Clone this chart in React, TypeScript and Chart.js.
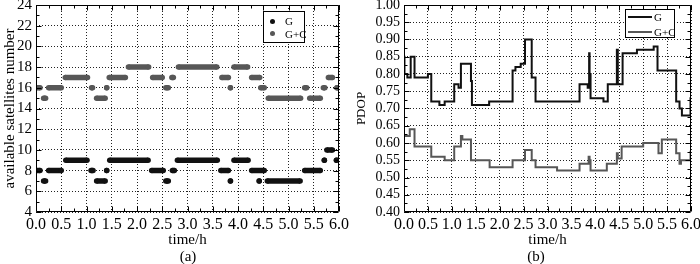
import React, { useEffect, useRef } from 'react';
import { Chart, registerables } from 'chart.js';

Chart.register(...registerables);

const SERIF = '"Liberation Serif", "Times New Roman", Times, serif';

// ---------- shared ----------
const seriesNames = ['G', 'G+C'];
const timeTitle = 'time/h';
const colorG = '#111111';
const colorGC = '#575757';

// ---------- panel (a): available satellites ----------
const satTitle = 'available satellites number';
// [start h, end h, satellites]
const gSatSegments: [number, number, number][] = [
  [0.0, 0.08, 8],
  [0.15, 0.19, 7],
  [0.25, 0.5, 8],
  [0.59, 1.01, 9],
  [1.09, 1.13, 8],
  [1.2, 1.37, 7],
  [1.4, 1.4, 8],
  [1.46, 2.22, 9],
  [2.29, 2.52, 8],
  [2.57, 2.62, 7],
  [2.7, 2.74, 8],
  [2.8, 3.59, 9],
  [3.66, 3.81, 8],
  [3.85, 3.85, 7],
  [3.92, 4.2, 9],
  [4.27, 4.52, 8],
  [4.42, 4.42, 7],
  [4.58, 5.23, 7],
  [5.32, 5.63, 8],
  [5.71, 5.71, 9],
  [5.76, 5.87, 10],
  [5.95, 5.95, 9],
];
const gcSatSegments: [number, number, number][] = [
  [0.0, 0.08, 16],
  [0.15, 0.19, 15],
  [0.25, 0.5, 16],
  [0.58, 1.02, 17],
  [1.1, 1.12, 16],
  [1.2, 1.37, 15],
  [1.4, 1.4, 16],
  [1.45, 1.77, 17],
  [1.83, 2.23, 18],
  [2.31, 2.5, 17],
  [2.57, 2.62, 16],
  [2.69, 2.72, 17],
  [2.82, 3.58, 18],
  [3.68, 3.81, 17],
  [3.85, 3.85, 16],
  [3.92, 4.19, 18],
  [4.27, 4.43, 17],
  [4.45, 4.52, 16],
  [4.6, 5.24, 15],
  [5.32, 5.36, 16],
  [5.42, 5.63, 15],
  [5.69, 5.72, 16],
  [5.79, 5.87, 17],
  [5.96, 5.96, 16],
];
const satMin = 4;
const satMax = 24;
const satStep = 2;

// ---------- panel (b): PDOP ----------
const pdopTitle = 'PDOP';
// [time h where value starts, PDOP]
const gPdopSteps: [number, number][] = [
  [0.0, 0.85], [0.01, 0.8], [0.07, 0.79], [0.14, 0.85], [0.22, 0.79],
  [0.5, 0.8], [0.57, 0.72], [0.74, 0.71], [0.85, 0.72], [1.05, 0.77],
  [1.14, 0.76], [1.19, 0.83], [1.4, 0.78], [1.42, 0.71], [1.78, 0.72],
  [2.27, 0.81], [2.33, 0.82], [2.44, 0.83], [2.53, 0.9], [2.67, 0.79],
  [2.75, 0.72], [3.67, 0.77], [3.84, 0.76], [3.87, 0.86], [3.88, 0.8],
  [3.9, 0.73], [4.17, 0.72], [4.26, 0.77], [4.45, 0.87], [4.47, 0.77],
  [4.57, 0.86], [4.87, 0.87], [5.22, 0.88], [5.3, 0.81], [5.69, 0.72],
  [5.76, 0.7], [5.81, 0.68], [5.99, 0.73], [6.0, 0.73],
];
const gcPdopSteps: [number, number][] = [
  [0.0, 0.62], [0.12, 0.64], [0.22, 0.59], [0.57, 0.56], [0.85, 0.55],
  [1.05, 0.59], [1.19, 0.62], [1.22, 0.61], [1.4, 0.55], [1.79, 0.53],
  [2.27, 0.55], [2.53, 0.58], [2.67, 0.55], [2.75, 0.53], [3.2, 0.52],
  [3.67, 0.54], [3.86, 0.56], [3.88, 0.55], [3.9, 0.52], [4.24, 0.54],
  [4.45, 0.57], [4.47, 0.555], [4.55, 0.59], [5.0, 0.6], [5.32, 0.57],
  [5.39, 0.61], [5.69, 0.57], [5.76, 0.54], [5.79, 0.55], [5.99, 0.575],
  [6.0, 0.575],
];
const pdopMin = 0.4;
const pdopMax = 1.0;
const pdopStep = 0.05;

// ---------- helpers ----------
function segmentsToPoints(segs: [number, number, number][]) {
  const out: { x: number; y: number | null }[] = [];
  segs.forEach(([s, e, v], i) => {
    if (i > 0) out.push({ x: s, y: null });
    out.push({ x: s, y: v }, { x: e, y: v });
  });
  return out;
}
function stepsToPoints(steps: [number, number][]) {
  return steps.map(([x, y]) => ({ x, y }));
}

const framePlugin = {
  id: 'frame',
  afterDatasetsDraw(chart: any, _args: any, opts: any) {
    const { ctx, chartArea: a, scales } = chart;
    const xs = scales.x;
    const ys = scales.y;
    const L = Math.round(a.left) + 0.5;
    const R = Math.round(a.right) - 0.5;
    const T = Math.round(a.top) + 0.5;
    const B = Math.round(a.bottom) - 0.5;
    ctx.save();
    ctx.strokeStyle = '#000';
    ctx.lineWidth = 1;
    ctx.beginPath();
    ctx.rect(L, T, R - L, B - T);
    const isMajor = (v: number, m: number) => Math.abs(v / m - Math.round(v / m)) < 1e-6;
    const nx = Math.round((xs.max - xs.min) / opts.xMinor);
    for (let i = 0; i <= nx; i++) {
      const v = xs.min + i * opts.xMinor;
      const p = Math.round(xs.getPixelForValue(v)) + 0.5;
      const len = isMajor(v - xs.min, opts.xMajor) ? 5 : 3;
      ctx.moveTo(p, B);
      ctx.lineTo(p, B - len);
      ctx.moveTo(p, T);
      ctx.lineTo(p, T + len);
    }
    const ny = Math.round((ys.max - ys.min) / opts.yMinor);
    for (let i = 0; i <= ny; i++) {
      const v = ys.min + i * opts.yMinor;
      const p = Math.round(ys.getPixelForValue(v)) + 0.5;
      const len = isMajor(v - ys.min, opts.yMajor) ? 5 : 3;
      ctx.moveTo(L, p);
      ctx.lineTo(L + len, p);
      ctx.moveTo(R, p);
      ctx.lineTo(R - len, p);
    }
    ctx.stroke();
    ctx.restore();
  },
};

function baseScales(opts: {
  yMin: number; yMax: number; yStep: number; yDigits: number; yTitle: string;
  yTitleSize: number; yTitlePad: number; yWidth: number; yTickSize: number;
}) {
  return {
    x: {
      type: 'linear',
      min: 0,
      max: 6,
      ticks: {
        stepSize: 0.5,
        autoSkip: false,
        maxRotation: 0,
        padding: 3,
        color: '#000',
        font: { family: SERIF, size: 16 },
        callback: (v: any) => Number(v).toFixed(1),
      },
      grid: { color: '#222', lineWidth: 1, drawTicks: false },
      border: { display: false, dash: [1, 2] },
      title: {
        display: true,
        text: timeTitle,
        color: '#000',
        font: { family: SERIF, size: 15 },
        padding: { top: 0, bottom: 3 },
      },
      afterFit: (s: any) => {
        s.height = 40;
        s.paddingLeft = 0;
        s.paddingRight = 0;
      },
    },
    y: {
      type: 'linear',
      min: opts.yMin,
      max: opts.yMax,
      ticks: {
        stepSize: opts.yStep,
        autoSkip: false,
        padding: 4,
        color: '#000',
        font: { family: SERIF, size: opts.yTickSize },
        callback: (v: any) => Number(v).toFixed(opts.yDigits),
      },
      grid: { color: '#222', lineWidth: 1, drawTicks: false },
      border: { display: false, dash: [1, 2] },
      title: {
        display: true,
        text: opts.yTitle,
        color: '#000',
        font: { family: SERIF, size: opts.yTitleSize },
        padding: { top: opts.yTitlePad, bottom: 0 },
      },
      afterFit: (s: any) => {
        s.width = opts.yWidth;
        s.paddingTop = 0;
        s.paddingBottom = 0;
      },
    },
  };
}

function makeConfigA(): any {
  return {
    type: 'line',
    data: {
      datasets: [
        {
          label: seriesNames[0],
          data: segmentsToPoints(gSatSegments),
          borderColor: colorG,
          backgroundColor: colorG,
          pointBackgroundColor: colorG,
          borderWidth: 5.5,
          pointRadius: 2.75,
          pointBorderWidth: 0,
          pointHoverRadius: 0,
          spanGaps: false,
          clip: 0,
        },
        {
          label: seriesNames[1],
          data: segmentsToPoints(gcSatSegments),
          borderColor: colorGC,
          backgroundColor: colorGC,
          pointBackgroundColor: colorGC,
          borderWidth: 5.5,
          pointRadius: 2.75,
          pointBorderWidth: 0,
          pointHoverRadius: 0,
          spanGaps: false,
          clip: 0,
        },
      ],
    },
    options: {
      responsive: false,
      animation: false,
      events: [],
      layout: { padding: { left: 0, right: 11, top: 5, bottom: 12 } },
      plugins: {
        legend: { display: false },
        tooltip: { enabled: false },
        frame: { xMinor: 0.25, xMajor: 0.5, yMinor: 1, yMajor: 2 },
      },
      scales: baseScales({
        yMin: satMin, yMax: satMax, yStep: satStep, yDigits: 0, yTitle: satTitle,
        yTitleSize: 15, yTitlePad: 1, yWidth: 36, yTickSize: 15,
      }),
    },
    plugins: [framePlugin],
  };
}

function makeConfigB(): any {
  return {
    type: 'line',
    data: {
      datasets: [
        {
          label: seriesNames[0],
          data: stepsToPoints(gPdopSteps),
          borderColor: colorG,
          borderWidth: 2,
          pointRadius: 0,
          stepped: 'before',
        },
        {
          label: seriesNames[1],
          data: stepsToPoints(gcPdopSteps),
          borderColor: colorGC,
          borderWidth: 2,
          pointRadius: 0,
          stepped: 'before',
        },
      ],
    },
    options: {
      responsive: false,
      animation: false,
      events: [],
      layout: { padding: { left: 0, right: 9, top: 5, bottom: 12 } },
      plugins: {
        legend: { display: false },
        tooltip: { enabled: false },
        frame: { xMinor: 0.25, xMajor: 0.5, yMinor: 0.025, yMajor: 0.05 },
      },
      scales: baseScales({
        yMin: pdopMin, yMax: pdopMax, yStep: pdopStep, yDigits: 2, yTitle: pdopTitle,
        yTitleSize: 13, yTitlePad: 4, yWidth: 54, yTickSize: 14,
      }),
    },
    plugins: [framePlugin],
  };
}

function ChartCanvas({ make, left }: { make: () => any; left: number }) {
  const ref = useRef<HTMLCanvasElement | null>(null);
  useEffect(() => {
    const chart = new Chart(ref.current as HTMLCanvasElement, make());
    return () => chart.destroy();
  }, []);
  return (
    <canvas
      ref={ref}
      width={350}
      height={264}
      style={{ position: 'absolute', left, top: 0, width: 350, height: 264 }}
    />
  );
}

const legendText: React.CSSProperties = {
  position: 'absolute',
  fontSize: 11,
  lineHeight: '12px',
  color: '#000',
  whiteSpace: 'nowrap',
};

export default function App() {
  return (
    <div
      style={{
        position: 'absolute',
        left: 0,
        top: 0,
        width: 700,
        height: 264,
        background: '#fff',
        fontFamily: SERIF,
        overflow: 'hidden',
      }}
    >
      <ChartCanvas make={makeConfigA} left={0} />
      <ChartCanvas make={makeConfigB} left={350} />

      {/* legend (a) */}
      <div
        style={{
          position: 'absolute', left: 263, top: 11, width: 42, height: 32,
          border: '1px solid #000', background: '#fff', boxSizing: 'border-box',
        }}
      >
        <div style={{ position: 'absolute', left: 6, top: 7, width: 5, height: 5, borderRadius: 3, background: colorG }} />
        <div style={{ ...legendText, left: 21, top: 3 }}>{seriesNames[0]}</div>
        <div style={{ position: 'absolute', left: 6, top: 19, width: 5, height: 5, borderRadius: 3, background: colorGC }} />
        <div style={{ ...legendText, left: 21, top: 16 }}>{seriesNames[1]}</div>
      </div>

      {/* legend (b) */}
      <div
        style={{
          position: 'absolute', left: 625, top: 9, width: 50, height: 29,
          border: '1px solid #000', background: '#fff', boxSizing: 'border-box',
        }}
      >
        <div style={{ position: 'absolute', left: 2, top: 6, width: 24, height: 2, background: colorG }} />
        <div style={{ ...legendText, left: 28, top: 1 }}>{seriesNames[0]}</div>
        <div style={{ position: 'absolute', left: 2, top: 21, width: 24, height: 2, background: colorGC }} />
        <div style={{ ...legendText, left: 28, top: 16 }}>{seriesNames[1]}</div>
      </div>

      <div style={{ position: 'absolute', left: 168, top: 248, width: 40, textAlign: 'center', fontSize: 15, lineHeight: '16px' }}>(a)</div>
      <div style={{ position: 'absolute', left: 516, top: 248, width: 40, textAlign: 'center', fontSize: 15, lineHeight: '16px' }}>(b)</div>
    </div>
  );
}
